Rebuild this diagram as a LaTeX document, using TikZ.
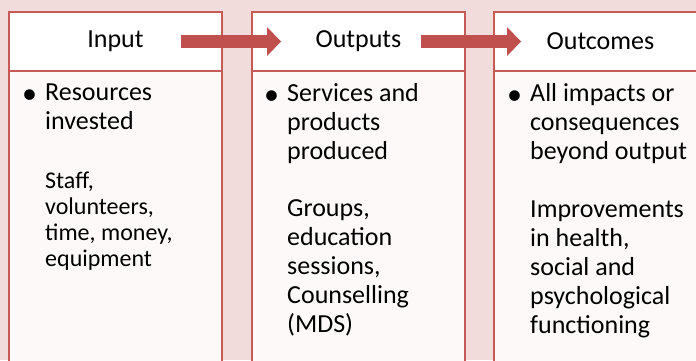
\documentclass[tikz,border=0pt]{standalone}
\usepackage{fontspec}
\setmainfont{Carlito}
\usetikzlibrary{positioning}
\usetikzlibrary{arrows.meta}
\usetikzlibrary{calc}
\usepackage{xcolor}
\definecolor{bgpink}{HTML}{F2DCDB}
\definecolor{arrowred}{HTML}{C0504D}
\definecolor{framered}{HTML}{C55A57}
\definecolor{paper}{HTML}{FDF9F9}
\newcommand{\bulletmark}{\makebox[23pt][l]{\raisebox{-3pt}{\fontsize{30}{29}\selectfont\textbullet}}}
\newcommand{\bulletgap}{\hspace*{23pt}}

\begin{document}
\begin{tikzpicture}[x=1pt, y=-1pt]
        % 样式
        \tikzstyle{headbox}=[draw=framered, line width=2pt, fill=white, minimum width=213pt, minimum height=59pt, inner sep=0pt, outer sep=0pt, font=\fontsize{26}{29}\selectfont]
        \tikzstyle{bodybox}=[draw=framered, line width=2pt, fill=paper, minimum width=213pt, minimum height=300pt, inner sep=0pt, outer sep=0pt]
        \tikzstyle{maintext}=[anchor=north west, inner sep=0pt, align=left, font=\fontsize{26}{29}\selectfont, execute at begin node=\strut]
        \tikzstyle{smalltext}=[maintext, font=\fontsize{24}{26}\selectfont]
        \tikzstyle{bigarrow}=[draw=arrowred, line width=13pt, -{Triangle[length=14pt, width=29pt, line width=0pt]}]

        % 背景
        \useasboundingbox[fill=bgpink] (0,0) rectangle (696,360);

        % 三个标题框
        \node[headbox] (input) at (115.5,41.5) {Input};
        \node[headbox, right=30pt of input] (outputs) {Outputs};
        \node[headbox, right=29pt of outputs] (outcomes) {Outcomes};

        % 内容框 (超出底边)
        \node[bodybox, below=0pt of input] (inputbody) {};
        \node[bodybox, below=0pt of outputs] (outputsbody) {};
        \node[bodybox, below=0pt of outcomes] (outcomesbody) {};

        % 箭头
        \draw[bigarrow] ([xshift=-41pt]input.east) -- ([xshift=29pt]outputs.west);
        \draw[bigarrow] ([xshift=-44pt]outputs.east) -- ([xshift=27pt]outcomes.west);

        % 文字
        \node[maintext] (inputtext) at ($(inputbody.north west)+(13,12.7)$) {\bulletmark Resources\\\bulletgap invested};
        \node[smalltext] (inputmore) at ($(inputbody.north west)+(36,100.8)$) {Staff,\\volunteers,\\time, money,\\equipment};

        \node[maintext] (outputstext) at ($(outputsbody.north west)+(12,12.7)$) {\bulletmark Services and\\\bulletgap products\\\bulletgap produced};
        \node[maintext] (outputsmore) at ($(outputsbody.north west)+(35,128.7)$) {Groups,\\education\\sessions,\\Counselling\\(MDS)};

        \node[maintext] (outcomestext) at ($(outcomesbody.north west)+(13,12.7)$) {\bulletmark All impacts or\\\bulletgap consequences\\\bulletgap beyond output};
        \node[maintext] (outcomesmore) at ($(outcomesbody.north west)+(36,129.7)$) {Improvements\\in health,\\social and\\psychological\\functioning};
    \end{tikzpicture}
\end{document}
